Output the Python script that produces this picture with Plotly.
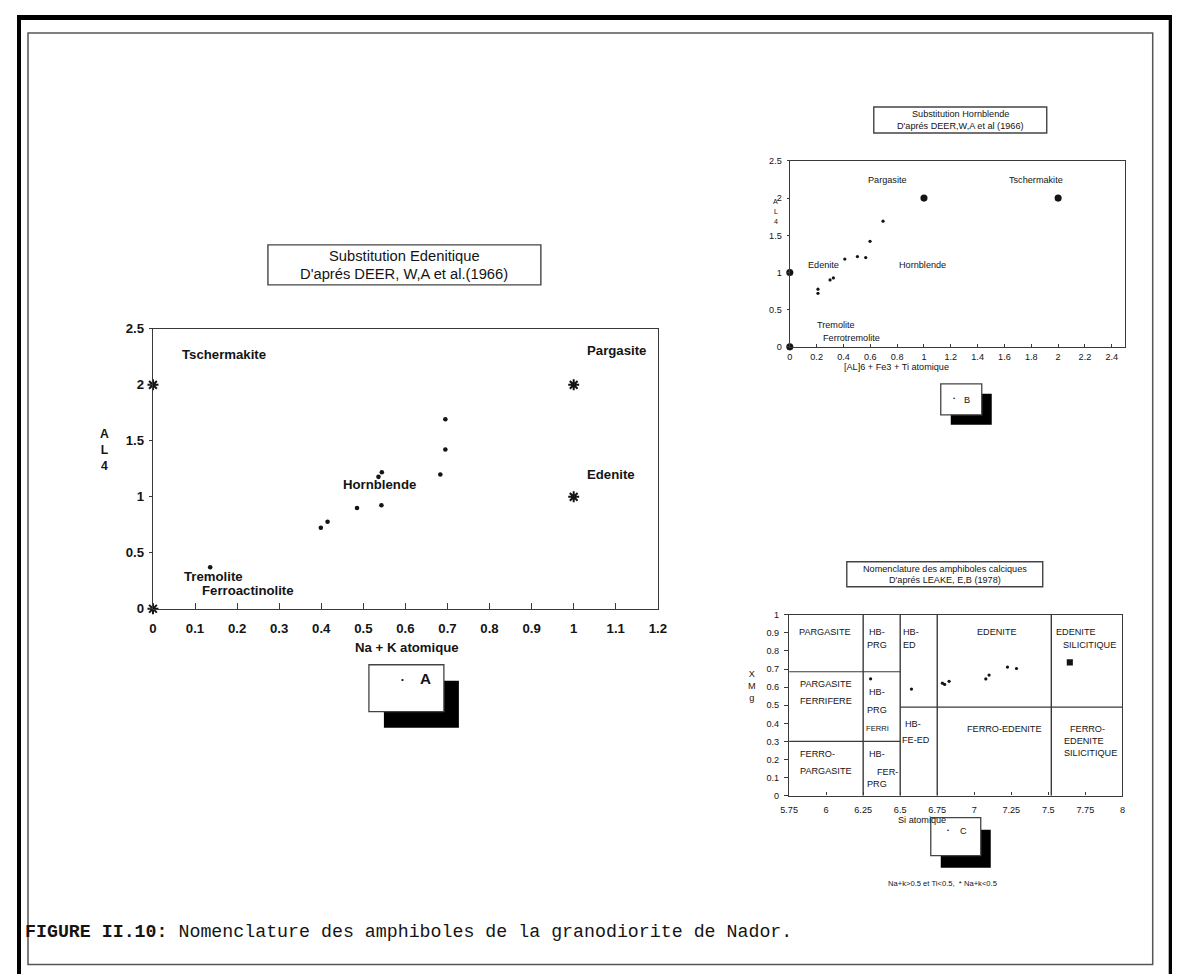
import plotly.graph_objects as go

W, H = 1180, 974

# ---------------- Chart A : Substitution Edenitique ----------------
a_nak = [0.136, 0.399, 0.415, 0.485, 0.543, 0.536, 0.544, 0.683, 0.695, 0.695]
a_al4 = [0.37, 0.723, 0.777, 0.90, 0.924, 1.178, 1.22, 1.20, 1.423, 1.692]
a_ref_x = [0, 0, 1, 1]
a_ref_y = [0, 2, 2, 1]
a_labels = ["Tschermakite", "Pargasite", "Edenite", "Hornblende", "Tremolite", "Ferroactinolite"]
a_label_x = [0.065, 1.026, 1.026, 0.447, 0.069, 0.1125]
a_label_y = [2.27, 2.31, 1.20, 1.106, 0.29, 0.16]
a_xticks = [0, 0.1, 0.2, 0.3, 0.4, 0.5, 0.6, 0.7, 0.8, 0.9, 1, 1.1, 1.2]
a_xticklabels = ["0", "0.1", "0.2", "0.3", "0.4", "0.5", "0.6", "0.7", "0.8", "0.9", "1", "1.1", "1.2"]
a_yticks = [0, 0.5, 1, 1.5, 2, 2.5]
a_yticklabels = ["0", "0.5", "1", "1.5", "2", "2.5"]

# ---------------- Chart B : Substitution Hornblende ----------------
b_x = [0.21, 0.21, 0.30, 0.325, 0.41, 0.504, 0.566, 0.598, 0.695]
b_al4 = [0.775, 0.72, 0.90, 0.927, 1.18, 1.214, 1.20, 1.42, 1.69]
b_ref_x = [0, 0, 1, 2]
b_ref_y = [0, 1, 2, 2]
b_labels = ["Pargasite", "Tschermakite", "Edenite", "Hornblende", "Tremolite", "Ferrotremolite"]
b_label_x = [0.57, 1.62, 0.124, 0.80, 0.19, 0.23]
b_label_y = [2.245, 2.245, 1.106, 1.10, 0.29, 0.125]
b_xticks = [0, 0.2, 0.4, 0.6, 0.8, 1, 1.2, 1.4, 1.6, 1.8, 2, 2.2, 2.4]
b_xticklabels = ["0", "0.2", "0.4", "0.6", "0.8", "1", "1.2", "1.4", "1.6", "1.8", "2", "2.2", "2.4"]
b_yticks = [0, 0.5, 1, 1.5, 2, 2.5]
b_yticklabels = ["0", "0.5", "1", "1.5", "2", "2.5"]

# ---------------- Chart C : Nomenclature Leake ----------------
c_si = [6.30, 6.576, 6.785, 6.80, 6.83, 7.078, 7.10, 7.224, 7.285]
c_xmg = [0.646, 0.589, 0.622, 0.615, 0.632, 0.645, 0.667, 0.711, 0.703]
c_star_si = [7.645]
c_star_xmg = [0.737]
c_vline_si = [6.25, 6.5, 6.75, 7.52]
c_hline_x0 = [5.75, 5.75, 6.5]
c_hline_x1 = [6.5, 6.5, 8.0]
c_hline_y = [0.685, 0.30, 0.49]
c_region_text = ["PARGASITE", "HB-", "PRG", "HB-", "ED", "EDENITE", "EDENITE", "SILICITIQUE",
                 "PARGASITE", "FERRIFERE", "HB-", "PRG", "FERRI", "HB-", "FE-ED",
                 "FERRO-EDENITE", "FERRO-", "EDENITE", "SILICITIQUE",
                 "FERRO-", "PARGASITE", "HB-", "FER-", "PRG"]
c_region_x = [5.995, 6.34, 6.346, 6.576, 6.56, 7.156, 7.685, 7.775,
              5.997, 5.997, 6.346, 6.346, 6.35, 6.583, 6.605,
              7.206, 7.764, 7.74, 7.786,
              5.94, 6.0, 6.346, 6.414, 6.346]
c_region_y = [0.902, 0.902, 0.834, 0.902, 0.834, 0.902, 0.902, 0.834,
              0.617, 0.525, 0.573, 0.471, 0.370, 0.398, 0.309,
              0.370, 0.370, 0.304, 0.236,
              0.232, 0.134, 0.232, 0.131, 0.066]
c_xticks = [5.75, 6, 6.25, 6.5, 6.75, 7, 7.25, 7.5, 7.75, 8]
c_xticklabels = ["5.75", "6", "6.25", "6.5", "6.75", "7", "7.25", "7.5", "7.75", "8"]
c_yticks = [0, 0.1, 0.2, 0.3, 0.4, 0.5, 0.6, 0.7, 0.8, 0.9, 1]
c_yticklabels = ["0", "0.1", "0.2", "0.3", "0.4", "0.5", "0.6", "0.7", "0.8", "0.9", "1"]

# The page is photographed slightly shrunk and offset; map target pixels to paper space.
S, OX, OY = 0.985, 16.0, 15.0


def X(px):
    return ((px - OX) / S) / W


def Y(py):
    return 1 - ((py - OY) / S) / H


def F(size):
    return size / S


SANS = "Liberation Sans, Arial, sans-serif"
MONO = "Liberation Mono, Courier New, monospace"
INK = "#141414"
LINE = "#3a3a3a"

fig = go.Figure()

# Chart A traces
fig.add_trace(go.Scatter(x=a_nak, y=a_al4, mode="markers", xaxis="x", yaxis="y",
                         marker=dict(size=F(4.5), color=INK), showlegend=False))
fig.add_trace(go.Scatter(x=a_ref_x, y=a_ref_y, mode="markers", xaxis="x", yaxis="y",
                         marker=dict(size=F(9), symbol="asterisk-open", color=INK,
                                     line=dict(width=2, color=INK)), showlegend=False, cliponaxis=False))
# Chart B traces
fig.add_trace(go.Scatter(x=b_x, y=b_al4, mode="markers", xaxis="x2", yaxis="y2",
                         marker=dict(size=F(3.2), color=INK), showlegend=False))
fig.add_trace(go.Scatter(x=b_ref_x, y=b_ref_y, mode="markers", xaxis="x2", yaxis="y2",
                         marker=dict(size=F(7), color=INK), showlegend=False, cliponaxis=False))
# Chart C traces
fig.add_trace(go.Scatter(x=c_si, y=c_xmg, mode="markers", xaxis="x3", yaxis="y3",
                         marker=dict(size=F(3.2), color=INK), showlegend=False))
fig.add_trace(go.Scatter(x=c_star_si, y=c_star_xmg, mode="markers", xaxis="x3", yaxis="y3",
                         marker=dict(size=F(6), symbol="square", color=INK), showlegend=False))

# axis domains (target pixel based)
axA = dict(x=[X(152), X(657)], y=[Y(609), Y(329)])
axB = dict(x=[X(789), X(1124.5)], y=[Y(347), Y(161)])
axC = dict(x=[X(788.3), X(1121.7)], y=[Y(796), Y(615)])


def axis(domain, rng, tickvals, ticktext, font, ticks, ticklen, anchor, standoff):
    return dict(domain=domain, range=rng, tickvals=tickvals, ticktext=ticktext, tickfont=font,
                ticks=ticks, ticklen=ticklen, tickcolor=LINE, tickwidth=1.2,
                showline=True, linecolor=LINE, linewidth=1.4, mirror=True,
                showgrid=False, zeroline=False, anchor=anchor, fixedrange=True,
                ticklabelstandoff=standoff)


fontA = dict(family=SANS, size=F(13), color=INK, weight="bold")
fontB = dict(family=SANS, size=F(9), color=INK)

fig.update_layout(
    width=W, height=H, margin=dict(l=0, r=0, t=0, b=0),
    paper_bgcolor="white", plot_bgcolor="white",
    xaxis=axis(axA["x"], [0, 1.2], a_xticks, a_xticklabels, fontA, "inside", 6, "y", 7),
    yaxis=axis(axA["y"], [0, 2.5], a_yticks, a_yticklabels, fontA, "outside", 3, "x", 2),
    xaxis2=axis(axB["x"], [0, 2.5], b_xticks, b_xticklabels, fontB, "inside", 3, "y2", 1),
    yaxis2=axis(axB["y"], [0, 2.5], b_yticks, b_yticklabels, fontB, "outside", 2, "x2", 3),
    xaxis3=axis(axC["x"], [5.75, 8], c_xticks, c_xticklabels, fontB, "inside", 3, "y3", 5),
    yaxis3=axis(axC["y"], [0, 1], c_yticks, c_yticklabels, fontB, "outside", 4, "x3", 3),
)

shapes = []
ann = []

# outer black frame (thick) and inner thin frame
for x0, x1, y0, y1 in [(0, 1, Y(20), 1), (0, X(20), 0, 1), (X(1168), 1, 0, 1)]:
    shapes.append(dict(type="rect", xref="paper", yref="paper", x0=x0, x1=x1, y0=y0, y1=y1,
                       line=dict(width=0), fillcolor="black", layer="above"))
shapes.append(dict(type="rect", xref="paper", yref="paper", x0=X(27), x1=X(1152), y0=Y(965), y1=Y(33),
                   line=dict(color="#555", width=1.5), fillcolor="rgba(0,0,0,0)", layer="below"))

# C region boundaries
for xv in c_vline_si:
    shapes.append(dict(type="line", xref="x3", yref="y3", x0=xv, x1=xv, y0=0, y1=1,
                       line=dict(color=LINE, width=1.4)))
for x0, x1, yv in zip(c_hline_x0, c_hline_x1, c_hline_y):
    shapes.append(dict(type="line", xref="x3", yref="y3", x0=x0, x1=x1, y0=yv, y1=yv,
                       line=dict(color=LINE, width=1.2)))


def title_box(x0, x1, y0, y1, lines, size, line_gap):
    shapes.append(dict(type="rect", xref="paper", yref="paper", x0=X(x0), x1=X(x1), y0=Y(y1), y1=Y(y0),
                       line=dict(color="#444", width=1.4), fillcolor="white"))
    cy = (y0 + y1) / 2
    n = len(lines)
    for i, t in enumerate(lines):
        yy = cy + (i - (n - 1) / 2) * line_gap
        ann.append(dict(xref="paper", yref="paper", x=X((x0 + x1) / 2), y=Y(yy), text=t, showarrow=False,
                        xanchor="center", yanchor="middle", font=dict(family=SANS, size=F(size), color=INK)))


title_box(267, 540, 245, 285, ["Substitution Edenitique", "D'aprés DEER, W,A et al.(1966)"], 14.5, 18.5)
title_box(873, 1046, 107, 133, ["Substitution Hornblende", "D'aprés DEER,W,A et al (1966)"], 9, 11.5)
title_box(846, 1042, 562, 587, ["Nomenclature des amphiboles calciques", "D'aprés LEAKE, E,B (1978)"], 9, 11.5)


def legend_box(x0, x1, y0, y1, dx, dy, letter, size, dot_size, bold):
    shapes.append(dict(type="rect", xref="paper", yref="paper", x0=X(x0 + dx), x1=X(x1 + dx),
                       y0=Y(y1 + dy), y1=Y(y0 + dy), line=dict(color="black", width=0), fillcolor="black"))
    shapes.append(dict(type="rect", xref="paper", yref="paper", x0=X(x0), x1=X(x1), y0=Y(y1), y1=Y(y0),
                       line=dict(color="#444", width=1.3), fillcolor="white"))
    cy = (y0 + y1) / 2
    w = x1 - x0
    ann.append(dict(xref="paper", yref="paper", x=X(x0 + 0.4 * w), y=Y(cy - 2), text="•", showarrow=False,
                    font=dict(family=SANS, size=F(dot_size), color=INK)))
    ann.append(dict(xref="paper", yref="paper", x=X(x0 + 0.76 * w), y=Y(cy + 1), text=letter, showarrow=False,
                    font=dict(family=SANS, size=F(size), color=INK, weight="bold" if bold else "normal")))


legend_box(368, 443, 665, 712, 15, 16, "A", 15, 8, True)
legend_box(940, 981, 384, 415, 10, 10, "B", 9, 6, False)
legend_box(930, 980, 818, 856, 10, 12, "C", 9, 6, False)

# Chart A labels
for t, lx, ly in zip(a_labels, a_label_x, a_label_y):
    ann.append(dict(xref="x", yref="y", x=lx, y=ly, text=t, showarrow=False, xanchor="left", yanchor="middle",
                    font=dict(family=SANS, size=F(13), color=INK, weight="bold")))
# Chart B labels
for t, lx, ly in zip(b_labels, b_label_x, b_label_y):
    ann.append(dict(xref="x2", yref="y2", x=lx, y=ly, text=t, showarrow=False, xanchor="left", yanchor="middle",
                    font=dict(family=SANS, size=F(9), color=INK)))
# Chart C region labels
for t, lx, ly in zip(c_region_text, c_region_x, c_region_y):
    ann.append(dict(xref="x3", yref="y3", x=lx, y=ly, text=t, showarrow=False, xanchor="center",
                    yanchor="middle", font=dict(family=SANS, size=F(7.5 if t == "FERRI" else 9), color=INK)))

# axis titles
ann.append(dict(xref="paper", yref="paper", x=X(97), y=Y(450), text="A<br>L<br>4", showarrow=False,
                font=dict(family=SANS, size=F(12), color=INK, weight="bold")))
ann.append(dict(xref="paper", yref="paper", x=X(406), y=Y(648), text="Na + K atomique", showarrow=False,
                font=dict(family=SANS, size=F(13), color=INK, weight="bold")))
for t, yy in zip(["A", "L", "4"], [196, 206, 216]):
    ann.append(dict(xref="paper", yref="paper", x=X(775), y=Y(yy), text=t, showarrow=False,
                    font=dict(family=SANS, size=F(7), color=INK)))
ann.append(dict(xref="paper", yref="paper", x=X(950), y=Y(367), text="[AL]6 + Fe3 + Ti atomique",
                showarrow=False, font=dict(family=SANS, size=F(9), color=INK)))
ann.append(dict(xref="paper", yref="paper", x=X(751), y=Y(705), text="X<br>M<br>g", showarrow=False,
                font=dict(family=SANS, size=F(9), color=INK)))
ann.append(dict(xref="paper", yref="paper", x=X(947), y=Y(827), text="Si atomique", showarrow=False,
                font=dict(family=SANS, size=F(9), color=INK)))
ann.append(dict(xref="paper", yref="paper", x=X(885), y=Y(890), text="Na+k>0.5 et Ti<0.5,  * Na+k<0.5",
                showarrow=False, xanchor="left", font=dict(family=SANS, size=F(7.5), color=INK)))

# caption
ann.append(dict(xref="paper", yref="paper", x=X(22), y=Y(932),
                text="<b>FIGURE II.10:</b> Nomenclature des amphiboles de la granodiorite de Nador.",
                showarrow=False, xanchor="left", yanchor="middle", font=dict(family=MONO, size=F(18), color=INK)))

fig.update_layout(shapes=shapes, annotations=ann)
fig.write_html("out.html")
